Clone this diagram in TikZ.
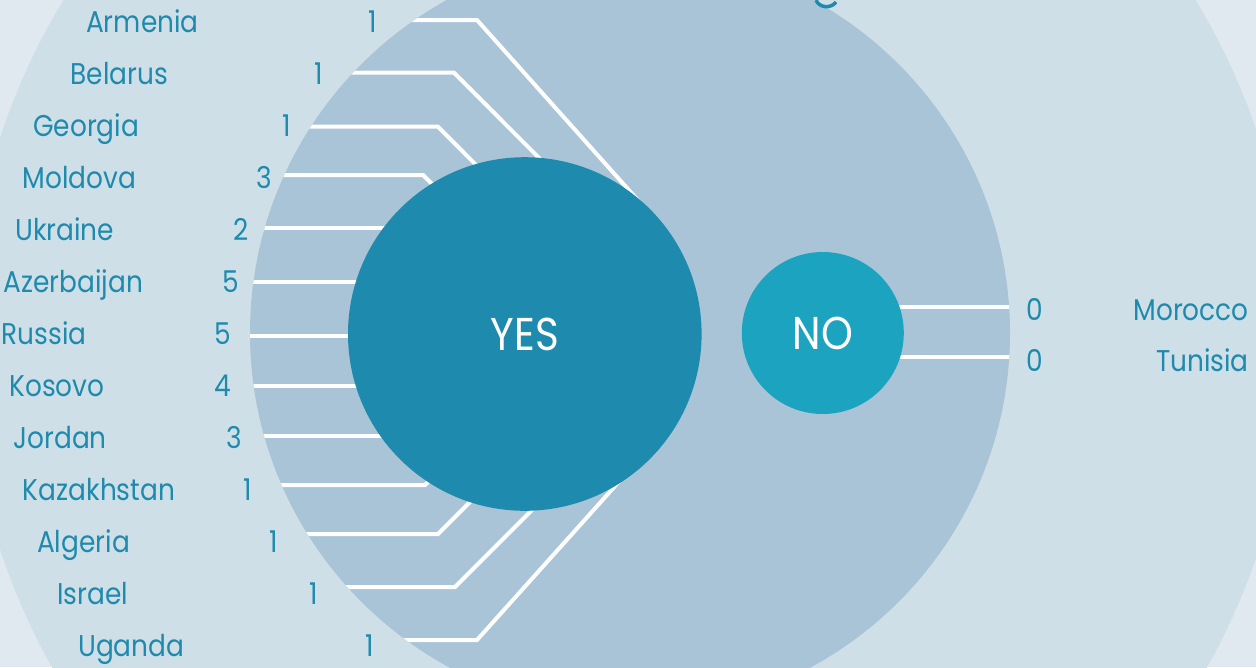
\documentclass[tikz,border=0pt]{standalone}
\usepackage{fontspec}
\setmainfont{Poppins}[FakeStretch=0.88]
\definecolor{bgc}{HTML}{E1E9F0}
\definecolor{outc}{HTML}{CFDFE7}
\definecolor{midc}{HTML}{A8C4D6}
\definecolor{yesc}{HTML}{1E8AAD}
\definecolor{noc}{HTML}{1BA3BF}
\definecolor{txt}{HTML}{1E8AAD}
\begin{document}
\begin{tikzpicture}[x=1pt,y=-1pt,
  disc/.style={circle,inner sep=0pt,outer sep=0pt},
  link/.style={white,line width=4pt,line join=miter},
  country/.style={anchor=base west,inner sep=0pt,text=txt,font=\fontsize{30}{30}\selectfont},
  count/.style={anchor=base,inner sep=0pt,text=txt,font=\fontsize{30}{30}\selectfont},
  countryr/.style={anchor=base east,inner sep=0pt,text=txt,font=\fontsize{30}{30}\selectfont},
  big/.style={text=white,font=\fontsize{46}{46}\selectfont}]
\useasboundingbox (0,0) rectangle (1256,667);
\clip (0,0) rectangle (1256,667);
\fill[bgc] (0,0) rectangle (1256,667);
\node[disc,fill=outc,minimum size=1324pt] (outer) at (629.5,343.5) {};
\node[disc,fill=midc,minimum size=760pt] (mid) at (630,333) {};
% partial glyph of a clipped title at the top
\draw[txt,line width=3.5pt] (816,0) .. controls (819,8) and (831,9) .. (836,2);
\begin{scope}
  \clip (mid.center) circle[radius=380pt];
  \foreach \y/\bx/\ex/\ey in {20/477/652/216, 72.7/454/564/183, 126.7/438/498/187, 175/423/453/205,
                              485/425/455/455, 534/438/498/474, 587/455/565/477, 640/477/651/446}
    \draw[link] (200,\y) -- (\bx,\y) -- (\ex,\ey);
  \foreach \y in {228,282,336,386,436}
    \draw[link] (200,\y) -- (440,\y);
  \foreach \y in {307.3,356.7}
    \draw[link] (820,\y) -- (1030,\y);
\end{scope}
\node[disc,fill=yesc,minimum size=353.6pt,big] (yes) at (524.8,334) {YES};
\node[disc,fill=noc,minimum size=162pt,big] (no) at (822.8,333) {NO};
% country names and counts
\foreach \n/\x/\c/\cx [count=\i from 0] in {Armenia/86/1/372.5, Belarus/70.5/1/318.7, Georgia/33/1/287,
    Moldova/22.5/3/264, Ukraine/15/2/241.5, Azerbaijan/3.3/5/230.5, Russia/1.7/5/223,
    Kosovo/9.3/4/223, Jordan/13.3/3/234, Kazakhstan/22.7/1/248, Algeria/37/1/274,
    Israel/57/1/314, Uganda/78/1/370}{
  \pgfmathsetmacro{\yb}{22+52*\i+10.5}
  \node[country] (name\i) at (\x,\yb) {\n};
  \node[count] (num\i) at (\cx,\yb) {\c};
}
\node[count] (numma) at (1034.5,320.5) {0};
\node[count] (numtn) at (1034.5,371) {0};
\node[countryr] (morocco) at (1249,320.5) {Morocco};
\node[countryr] (tunisia) at (1249,371) {Tunisia};
\end{tikzpicture}
\end{document}
